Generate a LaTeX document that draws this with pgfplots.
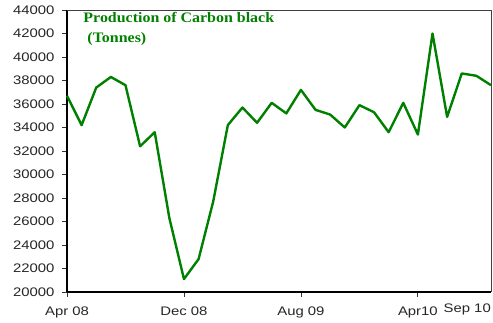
\documentclass[border=0pt]{standalone}
\usepackage{fontspec}
\usepackage{pgfplots}
\pgfplotsset{compat=1.18}
\usetikzlibrary{calc}
\setmainfont{Liberation Sans}
\newfontfamily\ticksf[FakeStretch=1.2]{Liberation Sans}
\newfontfamily\titlef[FakeStretch=1.1]{Liberation Serif}
\definecolor{linegreen}{HTML}{008000}
\pgfplotstableread{
idx value
0 36700
1 34200
2 37400
3 38300
4 37600
5 32400
6 33600
7 26300
8 21100
9 22800
10 27700
11 34200
12 35700
13 34400
14 36100
15 35200
16 37200
17 35500
18 35100
19 34000
20 35900
21 35300
22 33600
23 36100
24 33400
25 42000
26 34900
27 38600
28 38400
29 37600
}\carbon
\begin{document}
\begin{tikzpicture}
\begin{axis}[
  scale only axis,
  width=424pt, height=282pt,
  xmin=0, xmax=29,
  ymin=20000, ymax=44000,
  axis lines=left,
  axis line style={black, line width=1.2pt, -},
  xtick={0,8,16,24},
  xticklabels={Apr 08, Dec 08, Aug 09, Apr10},
  ytick={20000,22000,...,44000},
  scaled y ticks=false,
  tick align=outside,
  major tick length=5pt,
  tick style={black!80, line width=0.8pt},
  /pgf/number format/assume math mode=true,
  /pgf/number format/.cd, 1000 sep={}, /pgfplots/.cd,
  ticklabel style={font=\ticksf\fontsize{12.4}{14}\selectfont, text=black!85},
  xticklabel style={yshift=-6pt},
  yticklabel style={xshift=-4pt},
  clip=false,
]
\addplot[linegreen, line width=2.4pt, line join=round] table[x=idx, y=value] {\carbon};
\draw[black!75, line width=0.9pt] (rel axis cs:0,1) -- (rel axis cs:1,1) -- (rel axis cs:1,0);
\coordinate (bl) at (rel axis cs:0,0);
\coordinate (tr) at (rel axis cs:1,1);
\node[anchor=north west, inner sep=0pt, align=left, text=linegreen,
  font=\titlef\bfseries\fontsize{14.5}{20}\selectfont]
  at ([yshift=-2pt]rel axis cs:0.0384,1) {Production of Carbon black\\\hspace*{4pt}(Tonnes)};
\node[anchor=north east, inner sep=0pt, text=black!85,
  font=\ticksf\fontsize{12.4}{14}\selectfont]
  at ([yshift=-12pt]rel axis cs:1,0) {Sep 10};
\end{axis}
\pgfresetboundingbox
\path ($(bl)+(-67pt,-31pt)$) rectangle ($(tr)+(2pt,10pt)$);
\end{tikzpicture}
\end{document}
